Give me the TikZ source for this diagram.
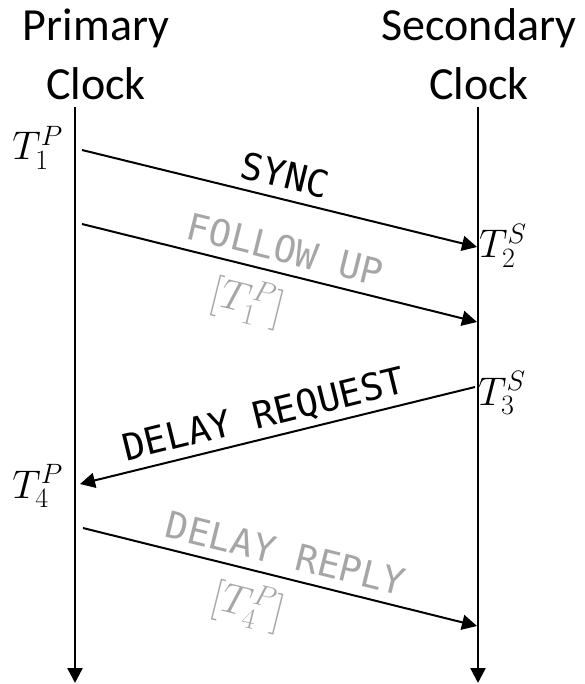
\RequirePackage{fix-cm}
\documentclass[tikz,border=0pt]{standalone}
\usepackage[no-math]{fontspec}
\setmainfont{Carlito}
\setmonofont{DejaVu Sans Mono}
\usetikzlibrary{arrows.meta}
\tikzset{
  clock/.style    = {align=center, inner sep=0pt, anchor=south,
        font=\fontsize{46}{59}\selectfont},
  stamp/.style    = {inner sep=1pt, font=\fontsize{40}{40}\selectfont},
  msg/.style      = {sloped, above, inner sep=10pt, text depth=0pt,
        font=\ttfamily\fontsize{37}{40}\selectfont},
  faint/.style    = {text=black!35},
  note/.style     = {sloped, below, inner sep=11pt, faint,
        font=\fontsize{42}{42}\selectfont},
  timeline/.style = {line width=2.4pt, -{Triangle[length=15pt,width=15pt]}},
  signal/.style   = {line width=2pt, -{Triangle[length=15pt,width=15pt]}}
}
\begin{document}
\begin{tikzpicture}
  [
    x = 1pt,
    y = -1pt
  ]
  \useasboundingbox (0,0) rectangle (585,684);
  \node [clock] (primary)   at (96,100)  {Primary\\Clock};
  \node [clock] (secondary) at (479,100) {Secondary\\Clock};
  \coordinate (p top) at (75,107);
  \coordinate (p end) at (75,683);
  \coordinate (s top) at (478,107);
  \coordinate (s end) at (478,683);
  \draw [timeline] (p top) -- (p end);
  \draw [timeline] (s top) -- (s end);

  \node [stamp, anchor=base east] (t1) at (64,160) {$T_1^P$};
  \node [stamp, anchor=base west] (t2) at (478,258) {$T_2^S$};
  \node [stamp, anchor=base west] (t3) at (477,405) {$T_3^S$};
  \node [stamp, anchor=base east] (t4) at (64,498) {$T_4^P$};

  \coordinate (sync a) at (82,150);
  \coordinate (sync b) at (477,247);
  \coordinate (fup a)  at (82,224);
  \coordinate (fup b)  at (477,322);
  \coordinate (req a)  at (475,387);
  \coordinate (req b)  at (80,484);
  \coordinate (rep a)  at (83,528);
  \coordinate (rep b)  at (477,626);

  \draw [signal] (sync a) -- node [msg] {SYNC} (sync b);
  \draw [signal] (fup a) -- node [msg, faint] {FOLLOW UP}
    node [note, pos=0.44] {$[T_1^P]$} (fup b);
  \draw [signal] (req a) -- node [msg, pos=0.52] {DELAY REQUEST} (req b);
  \draw [signal] (rep a) -- node [msg, faint] {DELAY REPLY}
    node [note, pos=0.44] {$[T_4^P]$} (rep b);
\end{tikzpicture}
\end{document}
